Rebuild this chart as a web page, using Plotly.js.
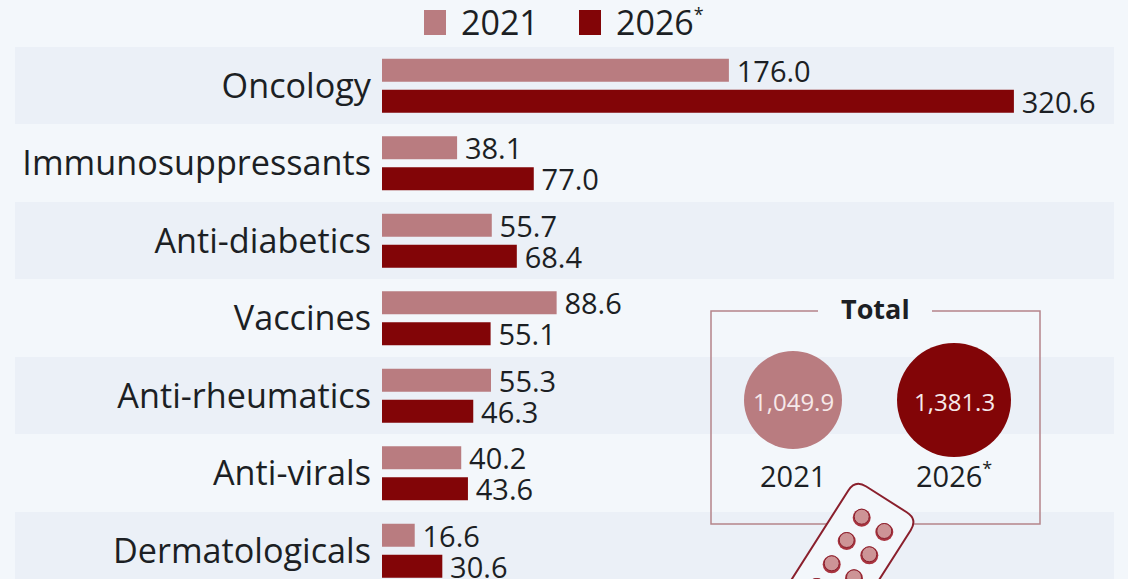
<!DOCTYPE html>
<html>
<head>
<meta charset="utf-8">
<script src="https://cdn.plot.ly/plotly-3.0.1.min.js"></script>
<style>html,body{margin:0;padding:0;background:#f3f7fb;overflow:hidden}</style>
</head>
<body>
<div id="chart" style="width:1128px;height:579px"></div>
<script>
// Revenue by therapy area, billions of dollars
const categories = ["Oncology", "Immunosuppressants", "Anti-diabetics", "Vaccines", "Anti-rheumatics", "Anti-virals", "Dermatologicals"];
const values2021 = [176.0, 38.1, 55.7, 88.6, 55.3, 40.2, 16.6];
const values2026 = [320.6, 77.0, 68.4, 55.1, 46.3, 43.6, 30.6];
const seriesNames = ["2021", "2026<sup><span style=\"font-size:18px\">*</span></sup>"];
const totals = ["1,049.9", "1,381.3"];
const colorLight = "#b97c80";
const colorDark = "#820507";
const ink = "#1c1f24";
const FONT = "'Open Sans', sans-serif";

const W = 1128, H = 579;
const M = {l: 382, r: 14, t: 47, b: 0};
const plotW = W - M.l - M.r, plotH = H - M.t - M.b;
// Convert page pixels into paper coordinates for the decorative layer
const px = x => (x - M.l) / plotW;
const py = y => 1 - (y - M.t) / plotH;

const shapes = [];
// Alternating row bands
categories.forEach((c, i) => {
  if (i % 2 === 0) shapes.push({type: "rect", layer: "below", xref: "paper", yref: "paper",
    x0: px(15), x1: px(1114), y0: py(47 + i * 77.5), y1: py(47 + i * 77.5 + 77), fillcolor: "#ebf0f7", line: {width: 0}});
});
// Legend swatches
[[424, colorLight], [579, colorDark]].forEach(([x, col]) => shapes.push({type: "rect", xref: "paper", yref: "paper",
  x0: px(x), x1: px(x + 22), y0: py(10), y1: py(35), fillcolor: col, line: {width: 0}}));
// Frame of the totals box, open at the top for its heading
shapes.push({type: "path", xref: "paper", yref: "paper",
  path: `M${px(818)},${py(311)}L${px(711)},${py(311)}L${px(711)},${py(524)}L${px(1040)},${py(524)}L${px(1040)},${py(311)}L${px(932)},${py(311)}`,
  line: {color: "#b5848a", width: 1.5}, fillcolor: "rgba(0,0,0,0)"});
// Total circles
[[793, 400, 49, colorLight], [954, 400, 57, colorDark]].forEach(([cx, cy, r, col]) => shapes.push({type: "circle", xref: "paper", yref: "paper",
  x0: px(cx - r), x1: px(cx + r), y0: py(cy - r), y1: py(cy + r), fillcolor: col, line: {width: 0}}));

// Blister pack, tilted and running off the bottom edge
const u = [0.843, 0.537], v = [-0.537, 0.843];
const corner = [855.3, 479.5];
const at = (a, b) => [corner[0] + a * u[0] + b * v[0], corner[1] + a * u[1] + b * v[1]];
const pt = (a, b) => { const p = at(a, b); return `${px(p[0])},${py(p[1])}`; };
const packW = 74, packL = 190, rad = 13;
shapes.push({type: "path", xref: "paper", yref: "paper", fillcolor: "#f3f7fb", line: {color: "#8a1f2c", width: 2},
  path: `M${pt(rad, 0)}L${pt(packW - rad, 0)}Q${pt(packW, 0)} ${pt(packW, rad)}L${pt(packW, packL)}L${pt(0, packL)}L${pt(0, rad)}Q${pt(0, 0)} ${pt(rad, 0)}Z`});
[[861.7, 516.7], [884.3, 531], [846.7, 540], [869.3, 554.3], [831.7, 563.3], [854, 577.3], [816.7, 586]].forEach(([cx, cy]) => {
  shapes.push({type: "circle", xref: "paper", yref: "paper", x0: px(cx - 9), x1: px(cx + 9), y0: py(cy - 8), y1: py(cy + 10), fillcolor: "#a8343f", line: {width: 0}});
  shapes.push({type: "circle", xref: "paper", yref: "paper", x0: px(cx - 7.5), x1: px(cx + 7.5), y0: py(cy - 7.5), y1: py(cy + 7.5), fillcolor: "#cd9496", line: {color: "#8a1f2c", width: 1}});
});

const note = (x, y, text, size, extra) => Object.assign({xref: "paper", yref: "paper", x: px(x), y: py(y), text, showarrow: false,
  xanchor: "center", yanchor: "middle", font: {family: FONT, size, color: ink}}, extra || {});

const annotations = [
  note(459, 22, seriesNames[0], 34, {xanchor: "left"}),
  note(614, 22, seriesNames[1], 34, {xanchor: "left"}),
  note(875, 309, "<b>Total</b>", 27),
  note(793, 401, totals[0], 24, {font: {family: FONT, size: 24, weight: 500, color: "#f6e9e9"}}),
  note(954, 401, totals[1], 24, {font: {family: FONT, size: 24, weight: 500, color: "#f6e9e9"}}),
  note(793, 475, seriesNames[0], 29),
  note(954, 475, seriesNames[1], 29)
];

const barTrace = (name, x, color) => ({type: "bar", orientation: "h", name, y: categories, x, text: x.map(v => "\u2009" + v.toFixed(1)),
  textposition: "outside", constraintext: "none", cliponaxis: false, textfont: {family: FONT, size: 29, color: ink},
  marker: {color, line: {width: 0}}, hoverinfo: "x+y"});

Plotly.newPlot("chart", [
  barTrace("2021", values2021, colorLight),
  barTrace("2026*", values2026, colorDark)
], {
  width: W, height: H, margin: M, showlegend: false,
  paper_bgcolor: "#f3f7fb", plot_bgcolor: "rgba(0,0,0,0)",
  barmode: "group", bargap: 0.2, bargroupgap: 0.26,
  xaxis: {range: [0, plotW / 1.971], visible: false, fixedrange: true},
  yaxis: {type: "category", categoryorder: "array", categoryarray: categories, range: [6.365, -0.5],
    showgrid: false, zeroline: false, showline: false, ticks: "", ticklabelstandoff: 10,
    tickfont: {family: FONT, size: 34.2, color: ink}, automargin: false, fixedrange: true},
  shapes, annotations
}, {displayModeBar: false, staticPlot: true});
</script>
</body>
</html>
